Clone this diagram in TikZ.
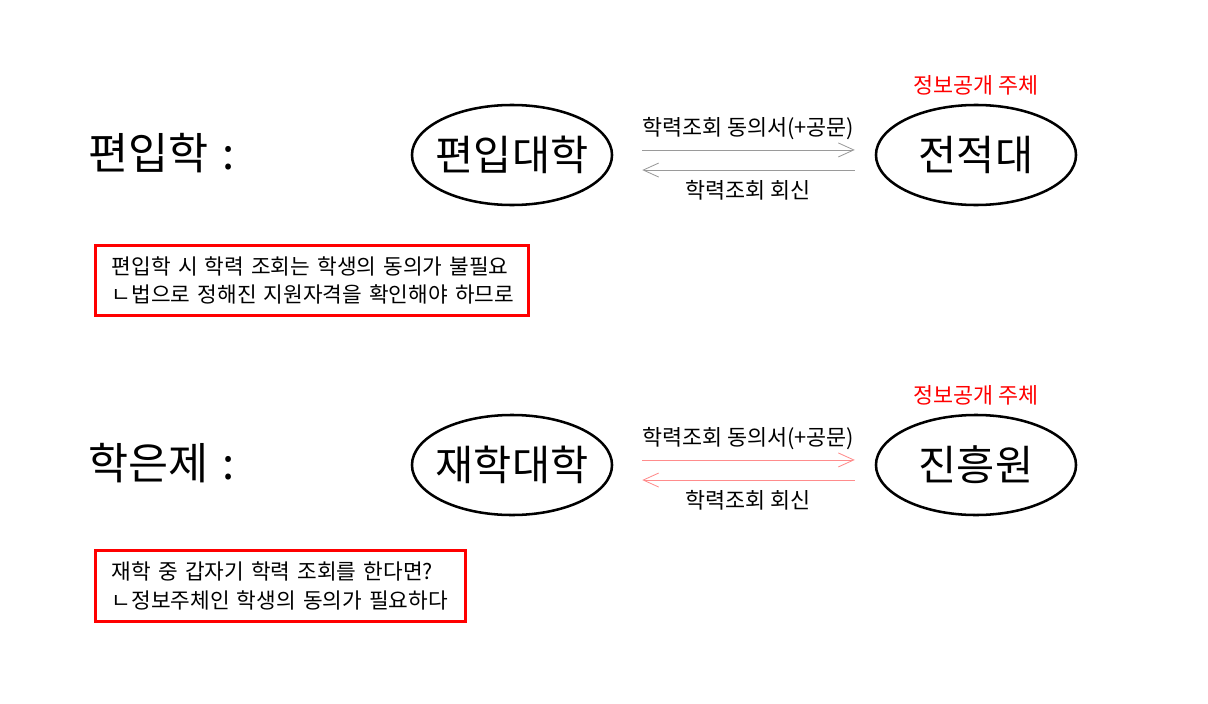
\documentclass[tikz,border=0pt]{standalone}
\usepackage{fontspec}
\setmainfont{Noto Sans CJK KR}
\usetikzlibrary{arrows.meta,shapes.geometric,positioning}
\definecolor{lineGray}{HTML}{9A9A9A}
\definecolor{linePink}{HTML}{FF8C8C}

\begin{document}
\begin{tikzpicture}[x=0.025cm, y=-0.025cm,
    topic/.style={anchor=west, inner sep=0pt, font=\fontsize{31pt}{36pt}\selectfont},
    party/.style={draw, ellipse, line width=1.8pt, inner xsep=-0.8cm, inner ysep=-0.3cm,
        minimum width=5cm, minimum height=2.5cm,
        font=\fontsize{29.5pt}{34pt}\selectfont},
    owner/.style={text=red, inner sep=0pt, font=\fontsize{15.5pt}{18pt}\selectfont},
    label/.style={inner sep=0pt, xshift=3pt, font=\fontsize{15.5pt}{18pt}\selectfont},
    note/.style={draw=red, line width=2.1pt, align=left, text width=#1,
        inner xsep=0.4cm, inner ysep=0pt, minimum height=1.76cm,
        font=\fontsize{15.2pt}{20.5pt}\selectfont},
    fwd/.style={-{Straight Barb[length=11pt, width=10pt]}, line width=0.6pt},
    back/.style={{Straight Barb[length=11pt, width=10pt]}-, line width=0.6pt}
]
    \useasboundingbox (0,0) rectangle (1208,703);

    % first case
    \node[topic] (topicA) at (88,153) {편입학\hspace{0.1em} :};
    \node[party] (newUni) at (512,155) {편입대학};
    \node[party] (oldUni) at (976,155) {전적대};
    \node[owner, above=6pt of oldUni] (ownerA) {정보공개 주체};
    \draw[fwd, lineGray, shorten <=20.6pt, shorten >=14.2pt]
        ([yshift=3.6pt]newUni.east) --
        node[label, black, above=7pt] {학력조회 동의서(+공문)}
        ([yshift=3.6pt]oldUni.west);
    \draw[back, lineGray, shorten <=20.6pt, shorten >=14.2pt]
        ([yshift=-10.7pt]newUni.east) --
        node[label, black, below=7pt] {학력조회 회신}
        ([yshift=-10.7pt]oldUni.west);
    \node[note=10cm] (noteA) at (312,280.5)
        {\mbox{편입학 시 학력 조회는 학생의 동의가 불필요}\\
        \mbox{ㄴ법으로 정해진 지원자격을 확인해야 하므로}};

    % second case
    \node[topic] (topicB) at (88,463) {학은제\hspace{0.1em} :};
    \node[party] (creditUni) at (512,465) {재학대학};
    \node[party] (agency) at (976,465) {진흥원};
    \node[owner, above=6pt of agency] (ownerB) {정보공개 주체};
    \draw[fwd, linePink, shorten <=20.6pt, shorten >=14.2pt]
        ([yshift=3.6pt]creditUni.east) --
        node[label, black, above=7pt] {학력조회 동의서(+공문)}
        ([yshift=3.6pt]agency.west);
    \draw[back, linePink, shorten <=20.6pt, shorten >=14.2pt]
        ([yshift=-10.7pt]creditUni.east) --
        node[label, black, below=7pt] {학력조회 회신}
        ([yshift=-10.7pt]agency.west);
    \node[note=8.43cm] (noteB) at (280.5,586)
        {\mbox{재학 중 갑자기 학력 조회를 한다면?}\\
        \mbox{ㄴ정보주체인 학생의 동의가 필요하다}};
\end{tikzpicture}
\end{document}
